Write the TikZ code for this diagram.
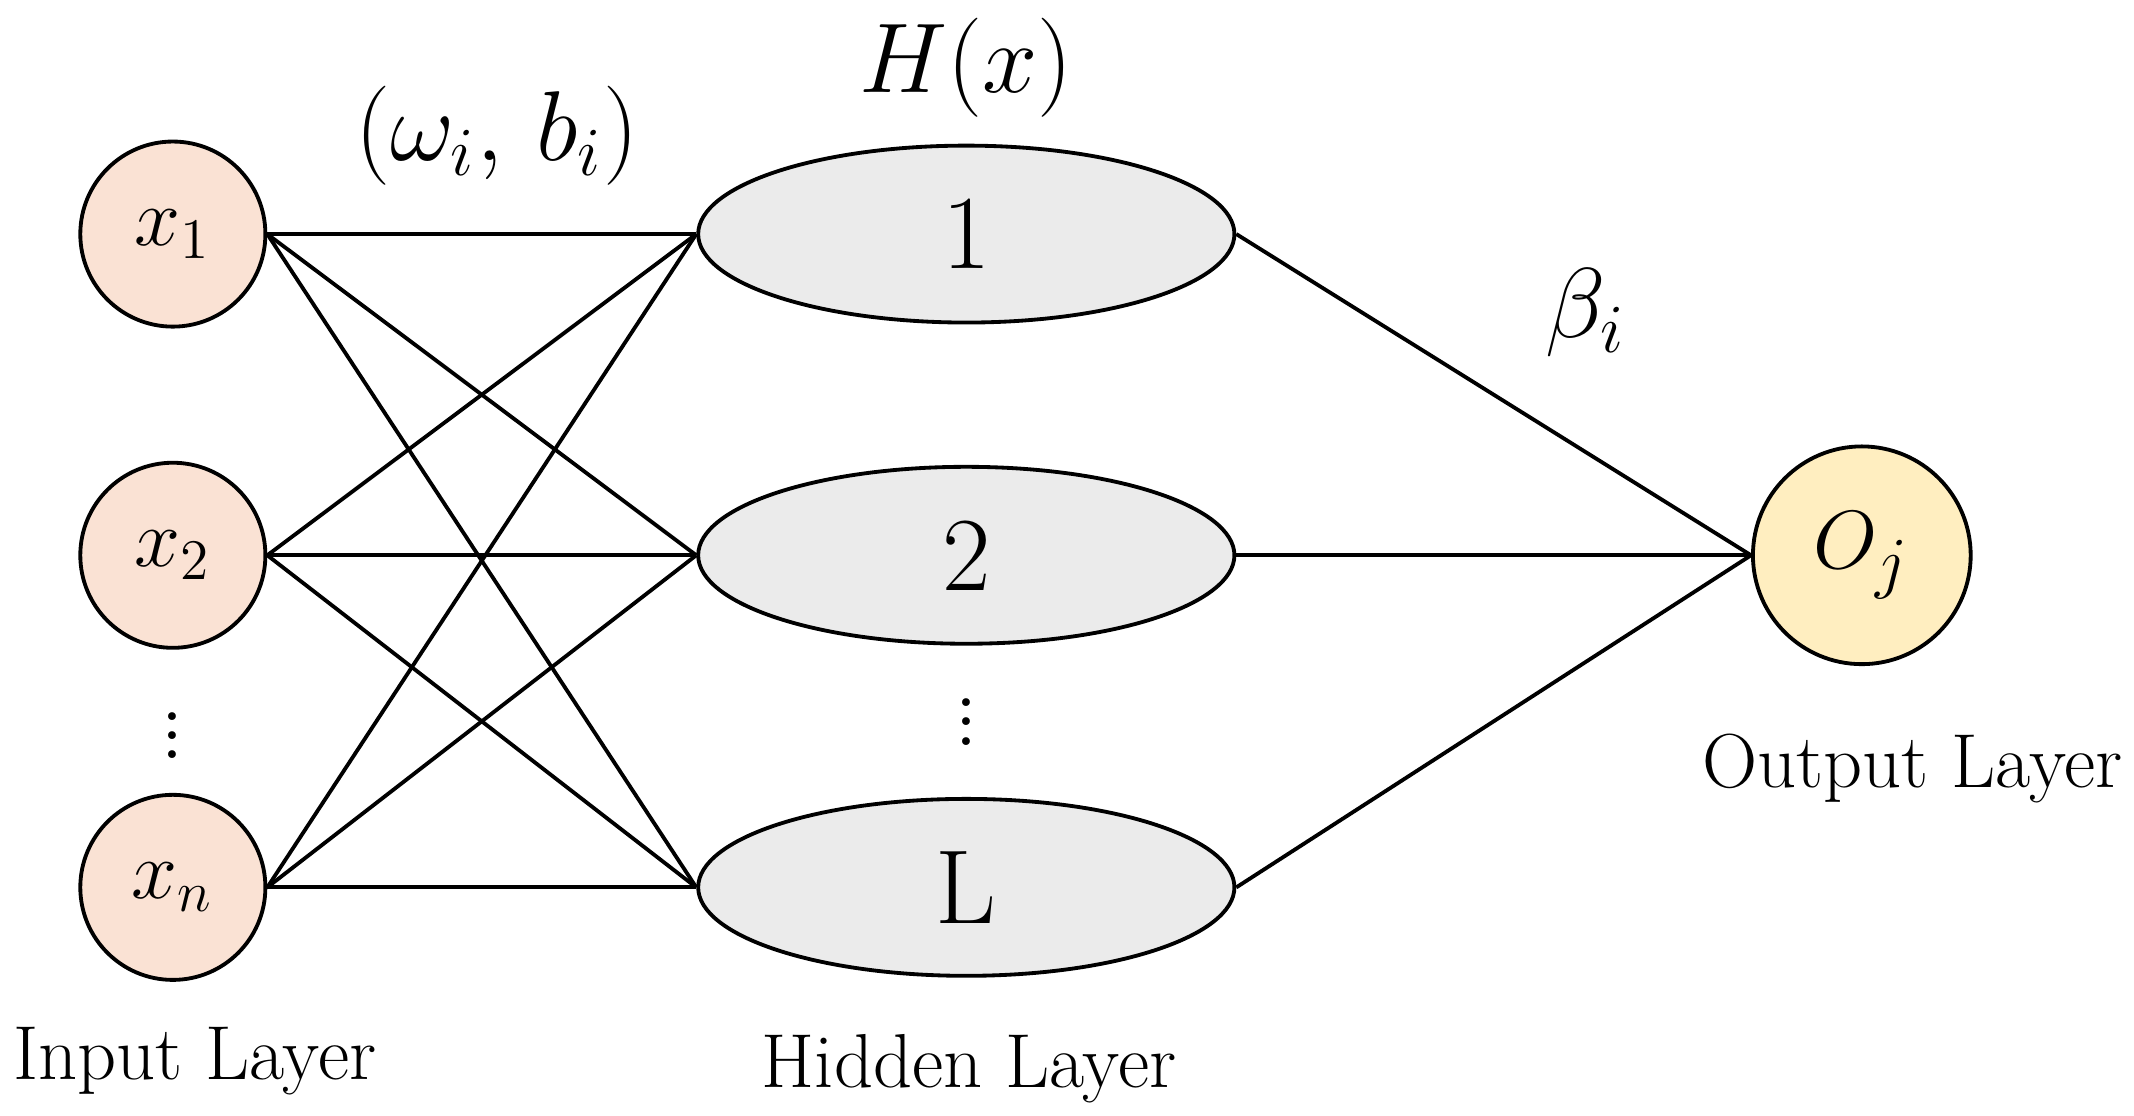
\documentclass[tikz,border=0pt]{standalone}
\usepackage{amsmath}
\usetikzlibrary{positioning,shapes.geometric}

\definecolor{inputfill}{RGB}{250,226,212}
\definecolor{outputfill}{RGB}{255,238,192}
\definecolor{hiddenfill}{RGB}{235,235,235}

\tikzset{
  input/.style={circle, draw, thick, fill=inputfill, minimum size=1.36cm, inner sep=0pt,
    font=\fontsize{17}{20}\selectfont},
  hidden/.style={ellipse, draw, thick, fill=hiddenfill, minimum width=3.94cm, minimum height=1.3cm,
    font=\fontsize{22}{26}\selectfont},
  output/.style={circle, draw, thick, fill=outputfill, minimum size=1.6cm, inner sep=0pt,
    font=\fontsize{19}{22}\selectfont},
  caption/.style={font=\fontsize{16}{19}\selectfont},
  link/.style={thick}
}

\begin{document}
\begin{tikzpicture}
  \useasboundingbox (0,0) rectangle (15.68,-8.2);
  % input layer
  \node[input] (x1) at (1.27,-1.72) {$x_1$};
  \node[input] (x2) at (1.27,-4.08) {$x_2$};
  \node[input] (xn) at (1.27,-6.52) {$x_n$};
  \node[font=\fontsize{20}{24}\selectfont] (xdots) at (1.27,-5.3) {$\vdots$};
  % hidden layer
  \node[hidden] (h1) at (7.10,-1.72) {1};
  \node[hidden] (h2) at (7.10,-4.08) {2};
  \node[hidden] (hL) at (7.10,-6.52) {L};
  \node[font=\fontsize{20}{24}\selectfont] (hdots) at (7.10,-5.2) {$\vdots$};
  % output layer
  \node[output] (o) at (13.68,-4.08) {$O_j$};
  % connections
  \foreach \i in {x1,x2,xn}
    \foreach \h in {h1,h2,hL}
      \draw[link] (\i.east) -- (\h.west);
  \foreach \h in {h1,h2,hL}
    \draw[link] (\h.east) -- (o.west);
  % labels
  \node[font=\fontsize{20}{24}\selectfont] (hx) at (7.10,-0.5) {$H(x)$};
  \node[font=\fontsize{20}{24}\selectfont] (wb) at (3.65,-1.0) {$(\omega_i,\, b_i)$};
  \node[font=\fontsize{20}{24}\selectfont] (beta) at (11.65,-2.3) {$\beta_i$};
  \node[caption] (inlab) at (1.43,-7.8) {Input Layer};
  \node[caption] (hidlab) at (7.12,-7.85) {Hidden Layer};
  \node[caption] (outlab) at (14.05,-5.65) {Output Layer};
\end{tikzpicture}
\end{document}
